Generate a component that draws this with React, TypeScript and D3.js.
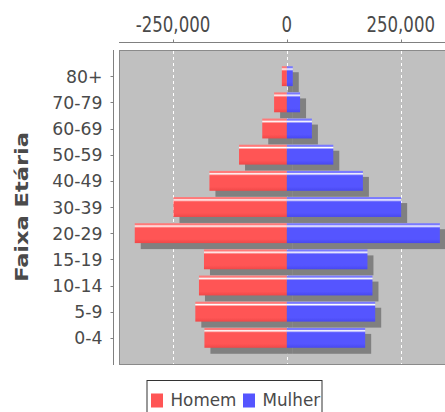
import React, { useRef, useEffect } from "react";
import * as d3 from "d3";

// age groups, top to bottom
const faixas = ["80+", "70-79", "60-69", "50-59", "40-49", "30-39", "20-29", "15-19", "10-14", "5-9", "0-4"];
const homem = [11000, 28000, 54000, 105000, 170000, 249000, 334000, 182000, 193000, 201000, 181000];
const mulher = [13000, 29000, 55000, 102000, 167000, 251000, 336000, 177000, 188000, 194000, 172000];
const xTicks = [-250000, 0, 250000];
const seriesNames = ["Homem", "Mulher"];
const seriesColors = ["#ff5555", "#5555ff"];
const brighter = ["#ff7979", "#7979ff"];
const darker = ["#f04848", "#4848f0"];

function App() {
  const svgRef = useRef<SVGSVGElement>(null);

  useEffect(() => {
    const width = 445;
    const height = 412;
    const plot = { left: 119, top: 50, right: 450, bottom: 364 };
    const textColor = "#4a4a4a";
    const shadow = 6;

    const svg = d3.select(svgRef.current)
      .attr("width", width)
      .attr("height", height);
    svg.selectAll("*").remove();

    const x = d3.scaleLinear().domain([-250000, 250000]).range([173, 400.7]);
    const y = d3.scaleBand<string>()
      .domain(faixas)
      .range([plot.top, plot.bottom])
      .paddingInner(0.24)
      .paddingOuter(0.62);

    // gradients (light strip at top of each bar)
    const defs = svg.append("defs");
    seriesColors.forEach((c, i) => {
      const g = defs.append("linearGradient")
        .attr("id", "grad" + i)
        .attr("x1", 0).attr("y1", 0).attr("x2", 0).attr("y2", 1);
      g.append("stop").attr("offset", "0%").attr("stop-color", brighter[i]);
      g.append("stop").attr("offset", "8%").attr("stop-color", brighter[i]);
      g.append("stop").attr("offset", "14%").attr("stop-color", "#ffffff");
      g.append("stop").attr("offset", "24%").attr("stop-color", c);
      g.append("stop").attr("offset", "80%").attr("stop-color", c);
      g.append("stop").attr("offset", "100%").attr("stop-color", darker[i]);
    });

    // PLOT BACKGROUND
    svg.append("rect")
      .attr("x", plot.left + 0.5)
      .attr("y", plot.top + 0.5)
      .attr("width", plot.right - plot.left)
      .attr("height", plot.bottom - plot.top)
      .attr("fill", "#c0c0c0")
      .attr("stroke", "#8a8a8a");

    // GRID
    svg.append("g")
      .selectAll("line")
      .data(xTicks)
      .enter()
      .append("line")
      .attr("x1", d => Math.round(x(d)) + 0.5)
      .attr("x2", d => Math.round(x(d)) + 0.5)
      .attr("y1", plot.top + 1)
      .attr("y2", plot.bottom)
      .attr("stroke", "#ffffff")
      .attr("stroke-width", 1)
      .attr("stroke-dasharray", "3,3");

    // SHADOWS
    const rows = faixas.map((f, i) => ({ f, h: homem[i], m: mulher[i] }));
    const bars = svg.append("g");
    rows.forEach(r => {
      bars.append("rect")
        .attr("x", x(-r.h) + shadow)
        .attr("y", (y(r.f) as number) + shadow)
        .attr("width", x(0) - x(-r.h))
        .attr("height", y.bandwidth())
        .attr("fill", "#808080");
      bars.append("rect")
        .attr("x", x(0) + shadow)
        .attr("y", (y(r.f) as number) + shadow)
        .attr("width", x(r.m) - x(0))
        .attr("height", y.bandwidth())
        .attr("fill", "#808080");
    });

    // BARS
    rows.forEach(r => {
      bars.append("rect")
        .attr("x", x(-r.h))
        .attr("y", y(r.f) as number)
        .attr("width", x(0) - x(-r.h))
        .attr("height", y.bandwidth())
        .attr("fill", "url(#grad0)");
      bars.append("rect")
        .attr("x", x(0))
        .attr("y", y(r.f) as number)
        .attr("width", x(r.m) - x(0))
        .attr("height", y.bandwidth())
        .attr("fill", "url(#grad1)");
    });

    // TOP AXIS
    const axisY = 42.5;
    svg.append("line")
      .attr("x1", plot.left).attr("x2", width)
      .attr("y1", axisY).attr("y2", axisY)
      .attr("stroke", "#808080");
    const fmt = d3.format(",");
    const top = svg.append("g");
    xTicks.forEach(t => {
      const px = Math.round(x(t)) + 0.5;
      top.append("line")
        .attr("x1", px).attr("x2", px)
        .attr("y1", axisY - 3).attr("y2", axisY)
        .attr("stroke", "#808080");
      top.append("text")
        .attr("transform", `translate(${x(t)},32) scale(1,1.3)`)
        .attr("text-anchor", "middle")
        .attr("font-family", "DejaVu Sans")
        .attr("font-size", 16.6)
        .attr("fill", textColor)
        .text(fmt(t).replace("\u2212", "-"));
    });

    // LEFT AXIS
    const axisX = 113.5;
    svg.append("line")
      .attr("x1", axisX).attr("x2", axisX)
      .attr("y1", plot.top).attr("y2", plot.bottom + 1)
      .attr("stroke", "#808080");
    const left = svg.append("g");
    faixas.forEach(f => {
      const cy = (y(f) as number) + y.bandwidth() / 2;
      left.append("line")
        .attr("x1", axisX - 3).attr("x2", axisX)
        .attr("y1", Math.round(cy) + 0.5).attr("y2", Math.round(cy) + 0.5)
        .attr("stroke", "#808080");
      left.append("text")
        .attr("x", 102.5)
        .attr("y", cy + 6.5)
        .attr("text-anchor", "end")
        .attr("font-family", "DejaVu Sans")
        .attr("font-size", 17.3)
        .attr("fill", textColor)
        .text(f);
    });

    // AXIS LABEL
    svg.append("text")
      .attr("transform", `translate(28.3,${(plot.top + plot.bottom) / 2}) rotate(-90) scale(1.23,1)`)
      .attr("text-anchor", "middle")
      .attr("font-family", "DejaVu Sans")
      .attr("font-weight", "bold")
      .attr("font-size", 18.3)
      .attr("fill", textColor)
      .text("Faixa Etária");

    // LEGEND
    const legend = svg.append("g");
    legend.append("rect")
      .attr("x", 147).attr("y", 380.5)
      .attr("width", 175).attr("height", 40)
      .attr("fill", "#ffffff")
      .attr("stroke", "#333333");
    const itemX = [151, 243];
    seriesNames.forEach((s, i) => {
      legend.append("rect")
        .attr("x", itemX[i]).attr("y", 393.5)
        .attr("width", 12).attr("height", 14)
        .attr("fill", seriesColors[i]);
      legend.append("text")
        .attr("x", itemX[i] + 19.5)
        .attr("y", 406)
        .attr("font-family", "DejaVu Sans")
        .attr("font-size", 16.8)
        .attr("fill", textColor)
        .text(s);
    });
  }, []);

  return (
    <svg ref={svgRef} style={{ position: "absolute", left: 0, top: 0 }}></svg>
  );
}

export default App;
